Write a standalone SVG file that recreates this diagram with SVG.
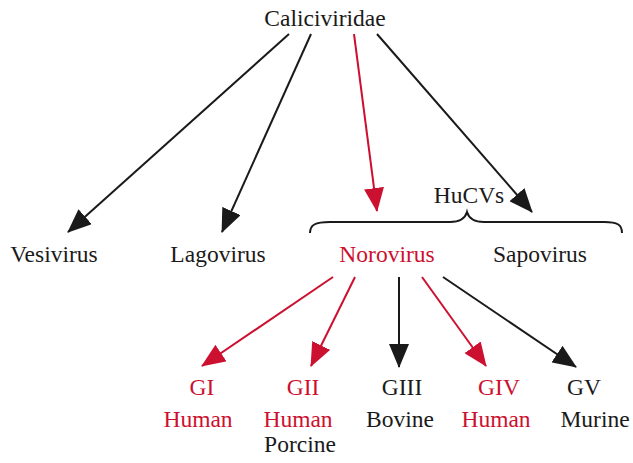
<svg xmlns="http://www.w3.org/2000/svg" width="633" height="463" viewBox="0 0 633 463">
<style>
text{font-size:23.5px;text-anchor:middle;fill:#1a1a1a}
.r{fill:#cc1030}
.k{stroke:#1a1a1a;stroke-width:2;fill:none}
.kr{stroke:#cc1030;stroke-width:2;fill:none}
</style>
<defs>
<marker id="ak" viewBox="0 0 24 20" refX="23" refY="10" markerWidth="24" markerHeight="20" markerUnits="userSpaceOnUse" orient="auto"><path d="M0,0 L24,10 L0,20 z" fill="#1a1a1a"/></marker>
<marker id="ar" viewBox="0 0 24 20" refX="23" refY="10" markerWidth="24" markerHeight="20" markerUnits="userSpaceOnUse" orient="auto"><path d="M0,0 L24,10 L0,20 z" fill="#cc1030"/></marker>
</defs>
<rect width="633" height="463" fill="#ffffff"/>
<g id="connectors">
<line class="k" x1="289" y1="34" x2="68" y2="232" marker-end="url(#ak)"/>
<line class="k" x1="311" y1="34" x2="222" y2="232" marker-end="url(#ak)"/>
<line class="kr" x1="354" y1="34" x2="377" y2="211" marker-end="url(#ar)"/>
<line class="k" x1="377" y1="34" x2="532" y2="212" marker-end="url(#ak)"/>
<line class="kr" x1="333" y1="277" x2="202" y2="366" marker-end="url(#ar)"/>
<line class="kr" x1="355" y1="277" x2="311" y2="366" marker-end="url(#ar)"/>
<line class="k" x1="399" y1="277" x2="399" y2="367" marker-end="url(#ak)"/>
<line class="kr" x1="422" y1="277" x2="486" y2="366" marker-end="url(#ar)"/>
<line class="k" x1="443" y1="277" x2="576" y2="367" marker-end="url(#ak)"/>
</g>
<g font-family="Liberation Serif, Times New Roman, serif">
<g id="brace">
<path class="k" stroke-width="1.8" d="M310,233 C310,225 315,222 330,222 L450,222 C460,222 465,219 467,212 C469,219 474,222 484,222 L604,222 C618,222 622,225 622,233"/>
<text x="469" y="203">HuCVs</text>
</g>
<g id="caliciviridae"><text x="325" y="26">Caliciviridae</text></g>
<g id="vesivirus"><text x="54" y="262">Vesivirus</text></g>
<g id="lagovirus"><text x="218" y="262">Lagovirus</text></g>
<g id="norovirus"><text class="r" x="387" y="262">Norovirus</text></g>
<g id="sapovirus"><text x="540" y="262">Sapovirus</text></g>
<g id="gi"><text class="r" x="202" y="395">GI</text><text class="r" x="198" y="427">Human</text></g>
<g id="gii"><text class="r" x="303" y="395">GII</text><text class="r" x="298" y="427">Human</text><text x="300" y="452">Porcine</text></g>
<g id="giii"><text x="402" y="395">GIII</text><text x="400" y="427">Bovine</text></g>
<g id="giv"><text class="r" x="499" y="395">GIV</text><text class="r" x="496" y="427">Human</text></g>
<g id="gv"><text x="584" y="395">GV</text><text x="595" y="427">Murine</text></g>
</g>
</svg>
